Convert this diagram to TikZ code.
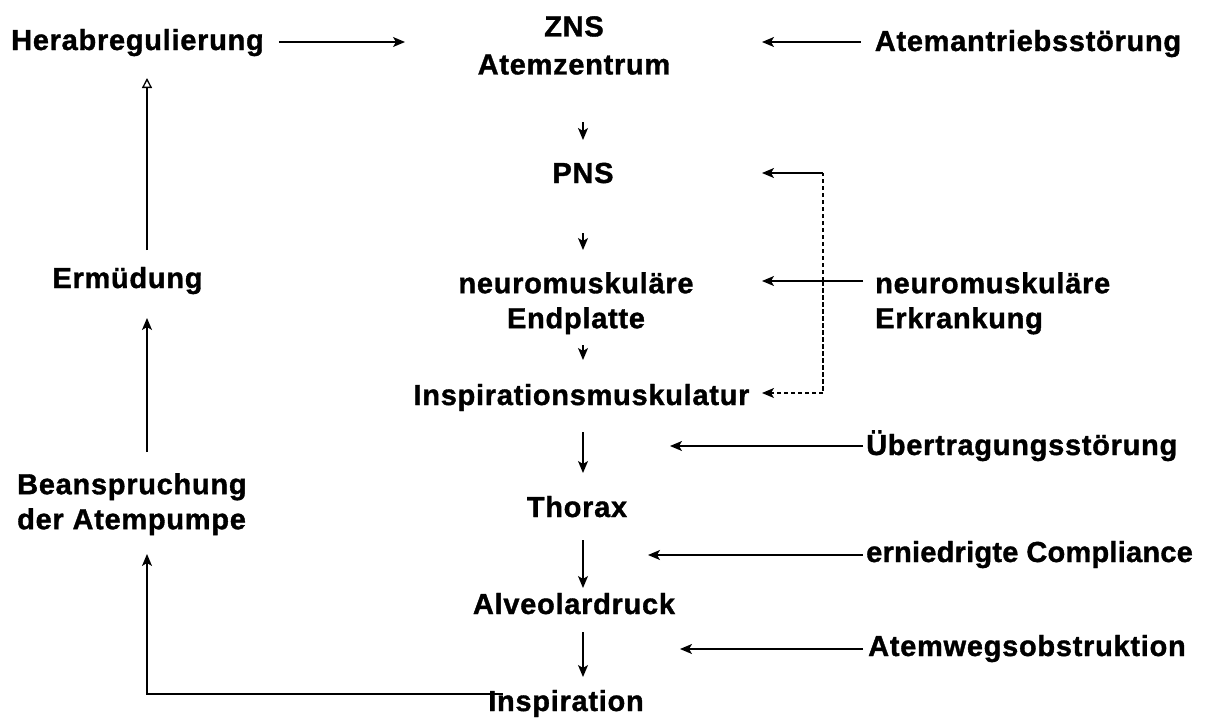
\documentclass[tikz,border=0pt]{standalone}
\usepackage{fontspec}
\setmainfont{Liberation Sans}[LetterSpace=2.5,FakeBold=1.2]
\usetikzlibrary{arrows.meta}
\tikzset{
  lbl/.style={font=\fontsize{29}{35}\selectfont\bfseries, inner sep=0pt, text=black},
  tip/.tip={Stealth[length=12pt,width=10pt,inset=3pt]},
  arr/.style={draw=black, line width=1.3pt, -tip},
  openarr/.style={draw=black, line width=1.3pt, -{Triangle[open,length=10pt,width=10pt]}},
  dsh/.style={draw=black, line width=1.2pt, dash pattern=on 4.5pt off 2.5pt},
}
\begin{document}
\begin{tikzpicture}[x=1pt,y=-1pt]
\useasboundingbox (0,0) rectangle (1218,718);
% nodes
\node[lbl, anchor=base] (hera) at (137.5,50) {Herabregulierung};
\node[lbl, anchor=north, align=center] (zns) at (574,16) {ZNS\\[3pt]Atemzentrum};
\node[lbl, anchor=base] (atem) at (1028,51) {Atemantriebsstörung};
\node[lbl, anchor=base] (pns) at (583,183) {PNS};
\node[lbl, anchor=north, align=center] (neuro) at (576,272) {neuromuskuläre\\Endplatte};
\node[lbl, anchor=north west, align=left] (erk) at (875,272) {neuromuskuläre\\Erkrankung};
\node[lbl, anchor=base] (insp) at (581.5,405) {Inspirationsmuskulatur};
\node[lbl, anchor=base] (thorax) at (577,517) {Thorax};
\node[lbl, anchor=base] (alv) at (574,614) {Alveolardruck};
\node[lbl, anchor=base] (inspiration) at (566,711) {Inspiration};
\node[lbl, anchor=base] (erm) at (127.5,288) {Ermüdung};
\node[lbl, anchor=north west, align=left] (bean) at (17,473) {Beanspruchung\\der Atempumpe};
\node[lbl, anchor=base west] (uebe) at (866,455) {Übertragungsstörung};
\node[lbl, anchor=base west] (compl) at (866,562) {\addfontfeature{LetterSpace=0.8}erniedrigte\hspace{8pt}Compliance};
\node[lbl, anchor=base west] (atemweg) at (868,656) {Atemwegsobstruktion};
% top row
\draw[arr] ([shift={(15,-8)}]hera.base east) -- ([shift={(-169,26)}]zns.north);
\draw[arr] ([shift={(-14,-9)}]atem.base west) -- ([shift={(188,26)}]zns.north);
% central column
\draw[arr] ([shift={(9,106)}]zns.north) -- ([shift={(0,-43)}]pns.base);
\draw[arr] ([shift={(0,50)}]pns.base) -- ([shift={(7,-22)}]neuro.north);
\draw[arr] ([shift={(7,73)}]neuro.north) -- ([shift={(1.5,-45)}]insp.base);
\draw[arr] ([shift={(1.5,27)}]insp.base) -- ([shift={(6,-44)}]thorax.base);
\draw[arr] ([shift={(6,23)}]thorax.base) -- ([shift={(9,-26)}]alv.base);
\draw[arr] ([shift={(9,18)}]alv.base) -- ([shift={(17,-34)}]inspiration.base);
% left column
\draw[openarr] ([shift={(19.5,-38)}]erm.base) -- ([shift={(9.5,28)}]hera.base);
\draw[arr] ([shift={(130,-21)}]bean.north west) -- ([shift={(19.5,30)}]erm.base);
\draw[arr] ([shift={(-63,-17)}]inspiration.base) -| ([shift={(130,81)}]bean.north west);
% right side
\coordinate (dj) at ([shift={(-52,9)}]erk.north west);
\coordinate (dtop) at ([shift={(179,-10)}]pns.base);
\coordinate (dbot) at ([shift={(180.5,-12)}]insp.base);
\draw[arr] ([shift={(-12,9)}]erk.north west) -- ([shift={(186,9)}]neuro.north);
\draw[dsh] (dj) -- (dj |- dtop);
\draw[arr] (dj |- dtop) -- (dtop);
\draw[dsh, -tip] (dj) |- (dbot);
\draw[arr] ([shift={(-3,-9)}]uebe.base west) -- ++(-193,0);
\draw[arr] ([shift={(-3,-7)}]compl.base west) -- ++(-215,0);
\draw[arr] ([shift={(-5,-7)}]atemweg.base west) -- ++(-183,0);
\end{tikzpicture}
\end{document}
